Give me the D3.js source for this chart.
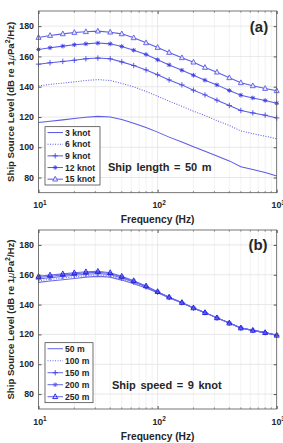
<!DOCTYPE html>
<html><head><meta charset="utf-8">
<script src="https://cdn.jsdelivr.net/npm/d3@7"></script>
<style>body{margin:0;background:#fff}svg{display:block}text{font-family:"Liberation Sans",Arial,sans-serif;font-weight:bold;fill:#262626}</style>
</head><body><svg id="c" width="283" height="443"></svg>
<script>
const freqs = [10,12.5,16,20,25,31.5,40,50,63,80,100,125,160,200,250,315,400,500,630,800,1000];
// Panel (a): ship length 50 m, speeds
const speed3  = [116.3,117.2,118.1,119.0,119.8,120.4,120.0,118.3,115.9,113.0,110.0,106.7,103.5,100.3,97.4,94.3,91.0,87.2,85.3,83.3,81.1];
const speed6  = [140.5,141.5,142.4,143.2,144.1,144.7,144.1,142.2,139.9,136.9,133.7,130.4,127.1,123.8,121.0,117.6,114.4,110.8,109.0,107.3,105.6];
const speed9  = [154.9,155.8,156.7,157.5,158.4,158.9,158.4,156.4,154.0,151.1,147.9,144.5,141.2,137.7,134.6,131.1,127.6,124.3,122.7,121.2,119.4];
const speed12 = [164.6,165.7,166.8,167.7,168.3,168.8,168.3,166.6,164.1,161.3,157.8,154.4,150.9,147.6,144.3,141.2,137.5,134.4,132.6,130.9,129.1];
const speed15 = [172.5,173.8,174.9,175.8,176.3,176.7,176.0,174.9,172.3,169.0,165.9,162.6,159.1,156.2,152.7,149.6,145.9,142.6,140.6,138.8,137.3];
const speedLabels = ["3 knot","6 knot","9 knot","12 knot","15 knot"];
// Panel (b): ship speed 9 knot, lengths
const len50  = [154.9,155.8,156.7,157.5,158.4,158.9,158.4,156.4,154.0,151.1,147.9,144.5,141.2,137.7,134.6,131.1,127.6,124.3,122.7,121.2,119.4];
const len100 = [156.0,156.9,157.8,158.6,159.4,159.9,159.3,157.1,154.6,151.5,148.1,144.6,141.2,137.7,134.6,131.1,127.6,124.3,122.7,121.2,119.4];
const len150 = [157.1,158.0,158.9,159.7,160.4,160.8,160.1,157.8,155.1,151.9,148.3,144.8,141.3,137.7,134.6,131.1,127.6,124.3,122.7,121.2,119.4];
const len200 = [158.1,159.0,159.8,160.6,161.3,161.7,160.8,158.5,155.6,152.2,148.5,144.9,141.3,137.7,134.6,131.1,127.6,124.3,122.7,121.2,119.4];
const len250 = [158.9,159.8,160.6,161.3,162.0,162.3,161.4,159.0,156.0,152.5,148.7,145.0,141.4,137.8,134.6,131.1,127.6,124.3,122.7,121.2,119.4];
const lengthLabels = ["50 m","100 m","150 m","200 m","250 m"];
const yTicks = [80,100,120,140,160,180];
const xTicks = [10,100,1000];

const svg = d3.select("#c");
const X0 = 38.5, X1 = 276.7;
const markers = ["none","none","plus","star","tri"];
const dashes = [null,"1,1.5",null,null,null];

function markerPath(type, s){
  if(type==="plus") return `M${-s},0H${s}M0,${-s}V${s}`;
  if(type==="star") { const d=s*0.72; return `M${-s},0H${s}M0,${-s}V${s}M${-d},${-d}L${d},${d}M${-d},${d}L${d},${-d}`; }
  if(type==="tri") return `M0,${-s*1.15}L${s},${s*0.75}L${-s},${s*0.75}Z`;
  return "";
}
const msize = {plus:2.7, star:2.3, tri:2.5};

function panel(top, bottom, series, labels, color, mcolor, triFill, tag, note, legBox){
  const g = svg.append("g");
  const x = d3.scaleLog().domain([10,1000]).range([X0,X1]);
  const y = d3.scaleLinear().domain([70,190]).range([bottom,top]);
  const minor = [];
  for (let dec of [10,100]) for (let k=2;k<=9;k++) minor.push(dec*k);
  g.selectAll(".mg").data(minor).join("line").attr("x1",d=>x(d)).attr("x2",d=>x(d)).attr("y1",top).attr("y2",bottom).attr("stroke","#ececec").attr("stroke-width",0.7);
  g.selectAll(".Mg").data([100]).join("line").attr("x1",d=>x(d)).attr("x2",d=>x(d)).attr("y1",top).attr("y2",bottom).attr("stroke","#e2e2e2").attr("stroke-width",0.8);
  g.selectAll(".yg").data(yTicks).join("line").attr("x1",X0).attr("x2",X1).attr("y1",d=>y(d)).attr("y2",d=>y(d)).attr("stroke","#e2e2e2").attr("stroke-width",0.8);
  const clean = s=>{s.select(".domain").remove();s.selectAll("line").attr("stroke","#555")};
  g.append("g").attr("transform",`translate(0,${bottom})`).call(d3.axisBottom(x).tickValues(xTicks).tickSize(-3).tickFormat("")).call(clean);
  g.append("g").attr("transform",`translate(0,${top})`).call(d3.axisTop(x).tickValues(xTicks).tickSize(-3).tickFormat("")).call(clean);
  g.append("g").attr("transform",`translate(${X0},0)`).call(d3.axisLeft(y).tickValues(yTicks).tickSize(-3).tickFormat("")).call(clean);
  g.append("g").attr("transform",`translate(${X1},0)`).call(d3.axisRight(y).tickValues(yTicks).tickSize(-3).tickFormat("")).call(clean);
  g.selectAll(".mt").data(minor).join("line").attr("x1",d=>x(d)).attr("x2",d=>x(d)).attr("y1",bottom).attr("y2",bottom-1.7).attr("stroke","#555").attr("stroke-width",0.6);
  g.selectAll(".mt2").data(minor).join("line").attr("x1",d=>x(d)).attr("x2",d=>x(d)).attr("y1",top).attr("y2",top+1.7).attr("stroke","#555").attr("stroke-width",0.6);
  g.selectAll(".yl").data(yTicks).join("text").attr("x",X0-4.5).attr("y",d=>y(d)).attr("dy","0.35em").attr("text-anchor","end").attr("font-size","8.8px").text(d=>d);
  const xl = g.selectAll(".xl").data(xTicks).join("text").attr("x",d=>x(d)+1.5).attr("y",bottom+15.5).attr("text-anchor","middle").attr("font-size","8.8px");
  xl.append("tspan").text("10");
  xl.append("tspan").attr("dy","-3.5").attr("font-size","6.5px").text(d=>Math.round(Math.log10(d)));
  g.append("text").attr("x",(X0+X1)/2).attr("y",bottom+30.5).attr("text-anchor","middle").attr("font-size","10.2px").text("Frequency (Hz)");
  const yt = g.append("text").attr("transform",`translate(13.5,${(top+bottom)/2}) rotate(-90)`).attr("text-anchor","middle").attr("font-size","9.6px");
  yt.append("tspan").text("Ship Source Level (dB re 1");
  yt.append("tspan").attr("font-style","italic").attr("font-weight","normal").text("\u03bc");
  yt.append("tspan").text("Pa");
  yt.append("tspan").attr("dy","-3.5").attr("font-size","7px").text("2");
  yt.append("tspan").attr("dy","3.5").text("/Hz)");
  const line = d3.line().x((d,i)=>x(freqs[i])).y(d=>y(d));
  series.forEach((s,k)=>{
    g.append("path").datum(s).attr("d",line).attr("fill","none").attr("stroke",color).attr("stroke-width",1.05).attr("stroke-dasharray",dashes[k]);
  });
  series.forEach((s,k)=>{
    const m = markers[k];
    if(m!=="none"){
      g.selectAll(null).data(s).join("path").attr("transform",(d,i)=>`translate(${x(freqs[i])},${y(d)})`)
        .attr("d",markerPath(m,msize[m])).attr("fill",m==="tri"?triFill:"none").attr("stroke",mcolor[k]).attr("stroke-width",0.9);
    }
  });
  g.append("rect").attr("x",X0).attr("y",top).attr("width",X1-X0).attr("height",bottom-top).attr("fill","none").attr("stroke","#555").attr("stroke-width",0.8);
  const [lx,ly,lw,lh] = legBox;
  g.append("rect").attr("x",lx).attr("y",ly).attr("width",lw).attr("height",lh).attr("fill","#fff").attr("stroke","#333").attr("stroke-width",0.7);
  const step = lh/5;
  labels.forEach((lab,k)=>{
    const cy = ly + step*(k+0.5);
    const m = markers[k];
    g.append("line").attr("x1",lx+2.5).attr("x2",lx+18).attr("y1",cy).attr("y2",cy).attr("stroke",color).attr("stroke-width",1.05).attr("stroke-dasharray",dashes[k]);
    if(m!=="none") g.append("path").attr("transform",`translate(${lx+10.2},${cy})`).attr("d",markerPath(m,msize[m])).attr("fill",m==="tri"?triFill:"none").attr("stroke",mcolor[k]).attr("stroke-width",0.9);
    g.append("text").attr("x",lx+20).attr("y",cy).attr("dy","0.35em").attr("font-size","8.6px").text(lab);
  });
  g.append("text").attr("x",note[1]).attr("y",note[2]).attr("dy","0.35em").attr("font-size","11px").attr("word-spacing","1.5px").text(note[0]);
  g.append("text").attr("x",tag[1]).attr("y",tag[2]).attr("dy","0.35em").attr("text-anchor","middle").attr("font-size","15px").text(tag[0]);
}

panel(11, 192.7, [speed3,speed6,speed9,speed12,speed15], speedLabels, "#5c5ce6",
  ["#5c5ce6","#5c5ce6","#4a4ae6","#3c3ce6","#5c5ce6"], "#e8e8fb",
  ["(a)",259,27], ["Ship length = 50 m",108,167], [45,126.7,55,58.3]);
panel(230, 409, [len50,len100,len150,len200,len250], lengthLabels, "#6a6aec",
  ["#6a6aec","#6a6aec","#3a3ae8","#5a5aec","#1c1ce0"], "none",
  ["(b)",258,244.5], ["Ship speed = 9 knot",112,385], [45,342.7,48,60]);
</script></body></html>
